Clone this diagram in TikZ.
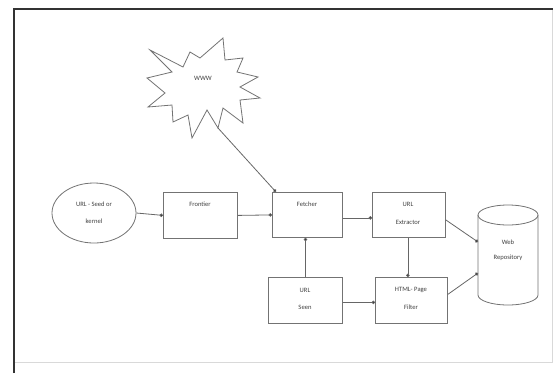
\documentclass[tikz,border=0pt]{standalone}
\usepackage{fontspec}
\setmainfont{Carlito}
\usetikzlibrary{arrows.meta,shapes.geometric}
\begin{document}
\begin{tikzpicture}[x=1pt,y=-1pt,
  shapeline/.style={draw=black!55,line width=0.8pt},
  procbox/.style={shapeline,rectangle,anchor=north west,inner sep=0pt},
  lbl/.style={font=\fontsize{6.6}{8}\selectfont,text=black!75,inner sep=0pt},
  flow/.style={draw=black!60,line width=0.8pt,-{Circle[length=3.4pt,fill=black!85]}}]
\useasboundingbox (0,0) rectangle (553,373);
% page frame
\draw[black!15,line width=0.6pt] (14,362) -- (552,362) -- (552,9);
\draw[black!80,line width=1.3pt] (14,373) -- (14,9) -- (553,9);

% WWW starburst
\draw[shapeline,fill=white] (150,50) -- (183,67) -- (190,52) -- (200,58) -- (223,38)
  -- (225,60) -- (243,58) -- (237,72) -- (258,77) -- (240,87) -- (260,98)
  -- (240,100) -- (243,123) -- (223,108) -- (218,128) -- (207,110) -- (192,138)
  -- (188,115) -- (173,122) -- (172,105) -- (148,107) -- (165,93) -- (147,78)
  -- (172,72) -- cycle;
\coordinate (wwwtip) at (218,128);
\node[lbl] (www) at (203,78) {WWW};

% seed ellipse
\node[shapeline,ellipse,minimum width=84pt,minimum height=60pt,inner sep=0pt] (seed) at (94,213) {};
\node[lbl] (seedt1) at (94,204) {URL - Seed or};
\node[lbl] (seedt2) at (94,221) {kernel};

% processing boxes
\node[procbox,minimum width=74pt,minimum height=46pt] (frontier) at (163,192) {};
\node[lbl] at (200,204) {Frontier};

\node[procbox,minimum width=70pt,minimum height=45pt] (fetcher) at (272,192) {};
\node[lbl] at (307,204) {Fetcher};

\node[procbox,minimum width=73pt,minimum height=45pt] (extractor) at (372,192) {};
\node[lbl] at (408,204) {URL};
\node[lbl] at (408,222) {Extractor};

\node[procbox,minimum width=74pt,minimum height=46pt] (seen) at (268,277) {};
\node[lbl] at (305,290) {URL};
\node[lbl] at (305,307) {Seen};

\node[procbox,minimum width=72pt,minimum height=46pt] (filter) at (375,277) {};
\node[lbl] at (411,290) {HTML- Page};
\node[lbl] at (411,307) {Filter};

% web repository cylinder
\draw[shapeline,fill=white] (478,215) -- (478,295) arc[start angle=180,end angle=360,x radius=30pt,y radius=10pt]
  -- (538,215) arc[start angle=0,end angle=180,x radius=30pt,y radius=10pt];
\draw[shapeline] (478,215) arc[start angle=180,end angle=360,x radius=30pt,y radius=10pt];
\node[inner sep=0pt,minimum width=60pt,minimum height=100pt] (repo) at (508,255) {};
\coordinate (repoin1) at (478,242);
\coordinate (repoin2) at (478,273);
\node[lbl] at (508,242) {Web};
\node[lbl] at (508,258) {Repository};

% connectors
\draw[flow] (seed.east) -- (frontier.west);
\draw[flow] (frontier.east) -- (fetcher.west);
\draw[flow] ([yshift=-3pt]fetcher.east) -- ([yshift=-3pt]extractor.west);
\draw[flow] (wwwtip) -- ([xshift=4pt]fetcher.north west);
\draw[flow] (seen.north) -- (seen.north |- fetcher.south);
\draw[flow] ([xshift=-1pt]extractor.south) -- ([xshift=-1pt]extractor.south |- filter.north);
\draw[flow] ([yshift=-2pt]seen.east) -- ([yshift=-2pt]filter.west);
\draw[flow] ([yshift=-5pt]extractor.east) -- (repoin1);
\draw[flow] ([yshift=6pt]filter.east) -- (repoin2);
\end{tikzpicture}
\end{document}
